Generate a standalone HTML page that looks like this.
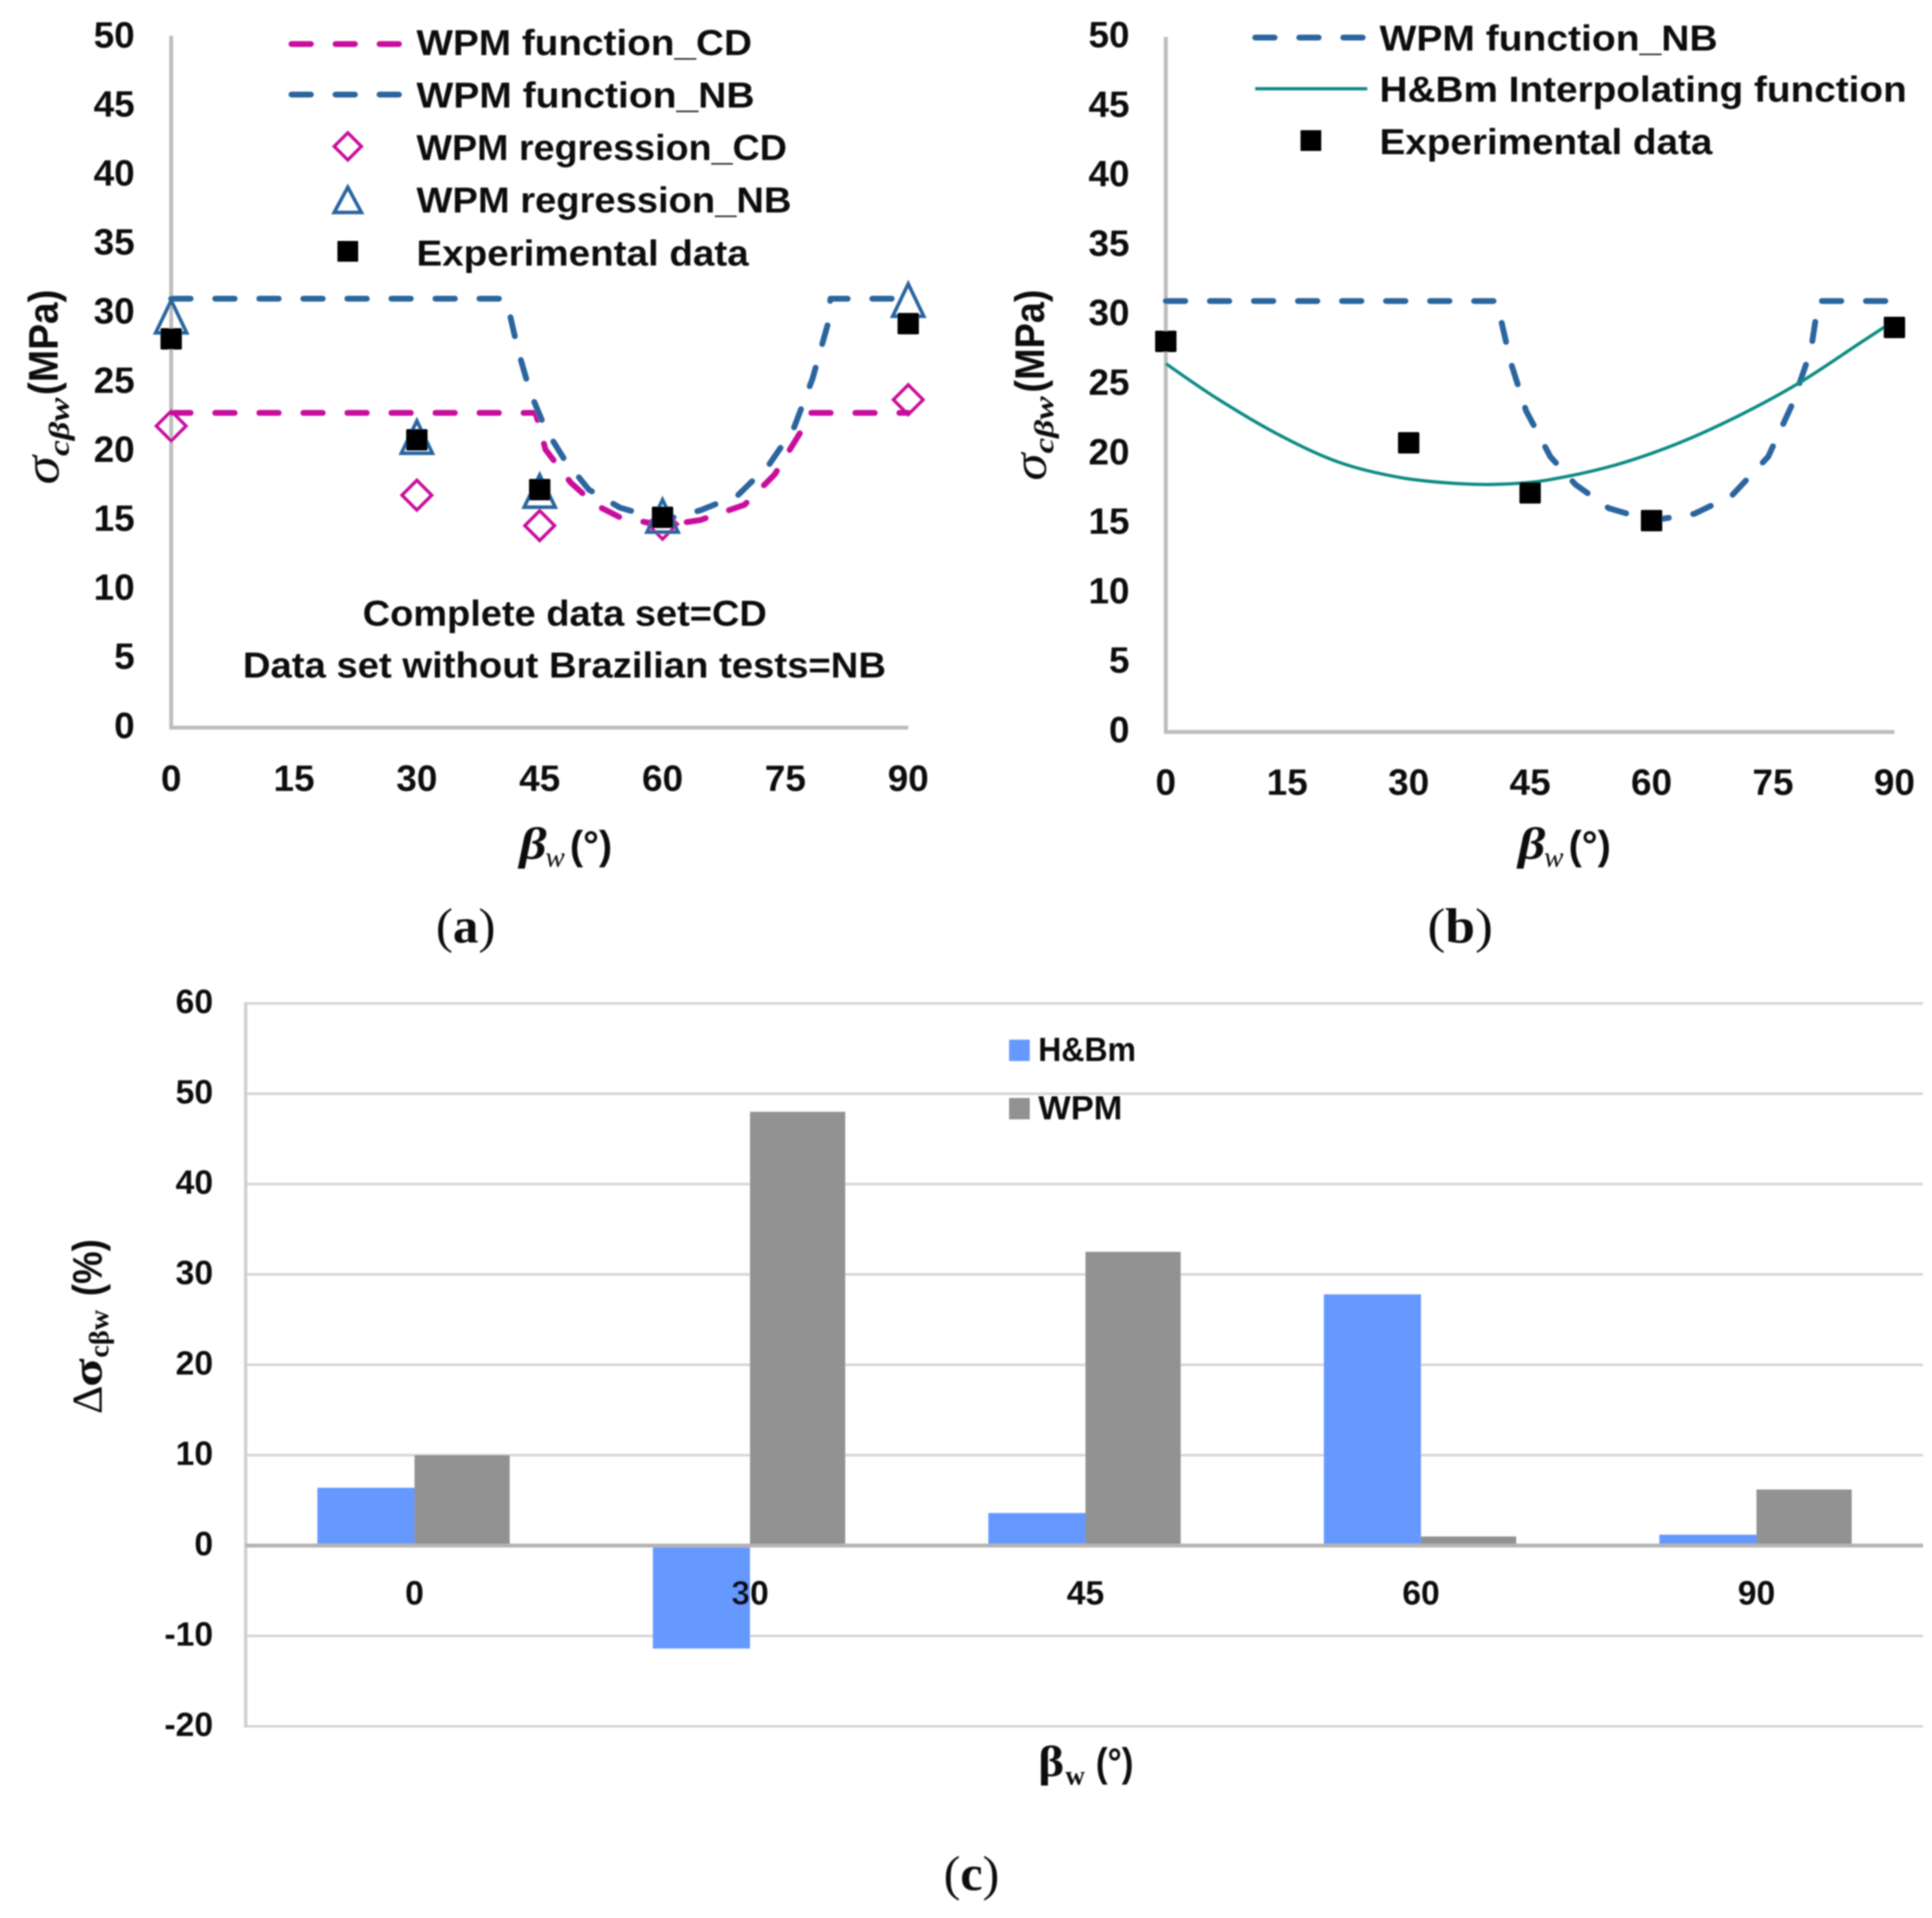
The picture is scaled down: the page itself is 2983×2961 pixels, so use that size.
<!DOCTYPE html>
<html lang="en">
<head>
<meta charset="utf-8">
<title>Strength versus weak-plane angle charts</title>
<style>
html,body{margin:0;padding:0;background:#fff;}
svg{display:block;}
text{fill:#0d0d0d;font-family:"Liberation Sans",sans-serif;font-weight:700;}
.serif{font-family:"Liberation Serif",serif;}
.tick{font-size:57px;}
.leg{font-size:56px;}
.ctick{font-size:52px;}
</style>
</head>
<body>
<svg id="figure" xmlns="http://www.w3.org/2000/svg" width="2983" height="2961" viewBox="0 0 2983 2961">
<defs>
<filter id="soft" x="0" y="0" width="100%" height="100%" filterUnits="userSpaceOnUse" primitiveUnits="userSpaceOnUse"><feGaussianBlur stdDeviation="1.1"/></filter>
</defs>
<rect x="0" y="0" width="2983" height="2961" fill="#ffffff"/>
<g filter="url(#soft)">
<g id="panelA">
  <g id="aAxes"></g>
  <g id="aMarks"></g>
  <g>
    <line x1="450" y1="68" x2="620" y2="68" stroke="#c80a9c" stroke-width="9" stroke-linecap="round" stroke-dasharray="30 38"/>
    <line x1="450" y1="146" x2="620" y2="146" stroke="#2b659f" stroke-width="9" stroke-linecap="round" stroke-dasharray="30 38"/>
    <polygon points="537,205 558,226 537,247 516,226" fill="none" stroke="#c80a9c" stroke-width="5"/>
    <polygon points="537,289 558,328 516,328" fill="none" stroke="#2b659f" stroke-width="5.5"/>
    <rect x="521" y="372" width="32" height="32" fill="#000"/>
    <text class="leg" x="643" y="85" textLength="518" lengthAdjust="spacingAndGlyphs">WPM function_CD</text>
    <text class="leg" x="643" y="166" textLength="522" lengthAdjust="spacingAndGlyphs">WPM function_NB</text>
    <text class="leg" x="643" y="247" textLength="572" lengthAdjust="spacingAndGlyphs">WPM regression_CD</text>
    <text class="leg" x="643" y="328" textLength="579" lengthAdjust="spacingAndGlyphs">WPM regression_NB</text>
    <text class="leg" x="643" y="410" textLength="513" lengthAdjust="spacingAndGlyphs">Experimental data</text>
  </g>
  <text class="leg" x="560" y="966" textLength="624" lengthAdjust="spacingAndGlyphs">Complete data set=CD</text>
  <text class="leg" x="375" y="1046" textLength="993" lengthAdjust="spacingAndGlyphs">Data set without Brazilian tests=NB</text>
  <g transform="rotate(-90)">
    <text class="serif" font-style="italic" style="font-weight:400;font-size:78px" x="-748" y="90" textLength="44" lengthAdjust="spacingAndGlyphs">σ</text>
    <text class="serif" font-style="italic" style="font-size:44px" x="-704" y="106" textLength="90" lengthAdjust="spacingAndGlyphs">cβw</text>
    <text style="font-size:64px" x="-610" y="89" textLength="163" lengthAdjust="spacingAndGlyphs">(MPa)</text>
  </g>
  <g>
    <text class="serif" font-style="italic" style="font-size:70px" x="802" y="1326" textLength="42" lengthAdjust="spacingAndGlyphs">β</text>
    <text class="serif" font-style="italic" style="font-size:44px;font-weight:400" x="842" y="1338" textLength="30" lengthAdjust="spacingAndGlyphs">w</text>
    <text style="font-size:62px" x="880" y="1326" textLength="65" lengthAdjust="spacingAndGlyphs">(°)</text>
  </g>
  <text class="serif" style="font-size:76px;font-weight:400" x="673" y="1455" textLength="92" lengthAdjust="spacingAndGlyphs">(<tspan style="font-weight:700">a</tspan>)</text>
</g>

<g id="panelB">
  <g id="bAxes"></g>
  <g id="bMarks"></g>
  <g>
    <line x1="1938" y1="58" x2="2109" y2="58" stroke="#2b659f" stroke-width="9" stroke-linecap="round" stroke-dasharray="30 38"/>
    <line x1="1938" y1="137" x2="2111" y2="137" stroke="#0e8b84" stroke-width="5"/>
    <rect x="2008" y="201" width="32" height="32" fill="#000"/>
    <text class="leg" x="2130" y="78" textLength="522" lengthAdjust="spacingAndGlyphs">WPM function_NB</text>
    <text class="leg" x="2130" y="157" textLength="814" lengthAdjust="spacingAndGlyphs">H&amp;Bm Interpolating function</text>
    <text class="leg" x="2130" y="238" textLength="514" lengthAdjust="spacingAndGlyphs">Experimental data</text>
  </g>
  <g transform="rotate(-90)">
    <text class="serif" font-style="italic" style="font-weight:400;font-size:74px" x="-742" y="1615" textLength="42" lengthAdjust="spacingAndGlyphs">σ</text>
    <text class="serif" font-style="italic" style="font-size:42px" x="-700" y="1626" textLength="88" lengthAdjust="spacingAndGlyphs">cβw</text>
    <text style="font-size:64px" x="-606" y="1612" textLength="159" lengthAdjust="spacingAndGlyphs">(MPa)</text>
  </g>
  <g>
    <text class="serif" font-style="italic" style="font-size:70px" x="2344" y="1326" textLength="42" lengthAdjust="spacingAndGlyphs">β</text>
    <text class="serif" font-style="italic" style="font-size:44px;font-weight:400" x="2384" y="1338" textLength="30" lengthAdjust="spacingAndGlyphs">w</text>
    <text style="font-size:62px" x="2422" y="1326" textLength="65" lengthAdjust="spacingAndGlyphs">(°)</text>
  </g>
  <text class="serif" style="font-size:76px;font-weight:400" x="2204" y="1455" textLength="101" lengthAdjust="spacingAndGlyphs">(<tspan style="font-weight:700">b</tspan>)</text>
</g>

<g id="panelC">
  <g id="cAxes"></g>
  <g id="cBars"></g>
  <g id="cLabels"></g>
  <g>
    <rect x="1558" y="1605" width="32" height="33" fill="#6699ff"/>
    <rect x="1558" y="1695" width="32" height="33" fill="#929292"/>
    <text class="ctick" x="1603" y="1638" textLength="151" lengthAdjust="spacingAndGlyphs">H&amp;Bm</text>
    <text class="ctick" x="1603" y="1728" textLength="130" lengthAdjust="spacingAndGlyphs">WPM</text>
  </g>
  <g transform="rotate(-90)">
    <text class="serif" style="font-size:66px;font-weight:400" x="-2183" y="157" textLength="44" lengthAdjust="spacingAndGlyphs">Δ</text>
    <text class="serif" style="font-size:66px" x="-2141" y="157" textLength="44" lengthAdjust="spacingAndGlyphs">σ</text>
    <text class="serif" style="font-size:42px" x="-2096" y="167" textLength="74" lengthAdjust="spacingAndGlyphs">cβw</text>
    <text style="font-size:64px" x="-2001" y="157" textLength="88" lengthAdjust="spacingAndGlyphs">(%)</text>
  </g>
  <g>
    <text class="serif" style="font-size:68px" x="1603" y="2742" textLength="40" lengthAdjust="spacingAndGlyphs">β</text>
    <text class="serif" style="font-size:42px" x="1645" y="2755" textLength="30" lengthAdjust="spacingAndGlyphs">w</text>
    <text style="font-size:62px" x="1692" y="2742" textLength="58" lengthAdjust="spacingAndGlyphs">(°)</text>
  </g>
  <text class="serif" style="font-size:76px;font-weight:400" x="1457" y="2918" textLength="86" lengthAdjust="spacingAndGlyphs">(<tspan style="font-weight:700">c</tspan>)</text>
</g>
</g>
</svg>
<script>
// Shared tick labels
const stressTicks = [0, 5, 10, 15, 20, 25, 30, 35, 40, 45, 50];
const angleTicks = [0, 15, 30, 45, 60, 75, 90];

// Panel (a) data
const expAngles = [0, 30, 45, 60, 90];
const aExpValues = [28.1, 20.8, 17.2, 15.2, 29.2];
const aRegNbValues = [29.7, 21.0, 17.1, 15.3, 30.9];
const aRegCdValues = [21.8, 16.8, 14.6, 14.7, 23.7];
const aNbAngles = [0, 40.6, 41.3, 42.3, 43.8, 45.7, 48, 51, 54.8, 60.1, 64.6, 69.2, 73, 76, 78.3, 80.2, 80.5, 90];
const aNbValues = [31, 31, 30, 27.4, 24.3, 21.6, 19.4, 17.2, 15.9, 15, 15.7, 16.8, 19, 21.6, 25.2, 29.2, 31, 31];
const aCdAngles = [0, 44.5, 45.7, 48.8, 51.8, 54.8, 60.1, 64.6, 70, 73.7, 77.1, 77.9, 90];
const aCdValues = [22.75, 22.75, 20.1, 17.7, 16.1, 15.2, 14.6, 15, 16.1, 18.3, 21.6, 22.75, 22.75];

// Panel (b) data
const bExpValues = [28.1, 20.8, 17.2, 15.2, 29.1];
const bNbAngles = [0, 40.7, 41.3, 42.6, 44.5, 47.5, 50.6, 54.7, 59.9, 65.3, 69.9, 74.4, 77.4, 79.7, 80.6, 90];
const bNbValues = [31, 31, 29.9, 26.6, 23.1, 19.8, 17.8, 16.1, 15.2, 15.7, 17, 19.8, 23.6, 27.5, 31, 31];
const bHbmAngles = [0, 6.3, 13.9, 21.4, 29, 36.6, 42.6, 47.9, 55.5, 63, 70.6, 78.2, 85.8, 90];
const bHbmValues = [26.5, 24, 21.4, 19.4, 18.3, 17.85, 17.85, 18.2, 19.2, 20.7, 22.7, 25.1, 28, 29.6];

// Panel (c) data
const barCategories = ['0', '30', '45', '60', '90'];
const barHbm = [6.4, -11.4, 3.6, 27.8, 1.2];
const barWpm = [10, 48, 32.5, 1, 6.2];
const errorTicks = [60, 50, 40, 30, 20, 10, 0, -10, -20];

const NS = 'http://www.w3.org/2000/svg';
function el(tag, attrs, parent, text) {
  const node = document.createElementNS(NS, tag);
  for (const k in attrs) node.setAttribute(k, attrs[k]);
  if (text !== undefined) node.textContent = text;
  parent.appendChild(node);
  return node;
}

// Axis functions
function xA(v) { return 264.3 + v * (1402.3 - 264.3) / 90; }
function yA(v) { return 1123.3 - v * 21.36; }
function xB(v) { return 1800 + v * (2925 - 1800) / 90; }
function yB(v) { return 1130 - v * 21.46; }
function yC(v) { return 2386 - v * 13.95; }
function xC(i) { return 640 + i * 518; }

function pointsOf(xs, ys, fx, fy) {
  return xs.map(function (x, i) { return fx(x).toFixed(1) + ',' + fy(ys[i]).toFixed(1); }).join(' ');
}

// Smooth path (Catmull-Rom) through data points
function smoothPath(xs, ys, fx, fy) {
  const p = xs.map(function (x, i) { return [fx(x), fy(ys[i])]; });
  let d = 'M' + p[0][0].toFixed(1) + ',' + p[0][1].toFixed(1);
  for (let i = 0; i < p.length - 1; i++) {
    const p0 = p[Math.max(i - 1, 0)], p1 = p[i], p2 = p[i + 1], p3 = p[Math.min(i + 2, p.length - 1)];
    const c1x = p1[0] + (p2[0] - p0[0]) / 6, c1y = p1[1] + (p2[1] - p0[1]) / 6;
    const c2x = p2[0] - (p3[0] - p1[0]) / 6, c2y = p2[1] - (p3[1] - p1[1]) / 6;
    d += ' C' + c1x.toFixed(1) + ',' + c1y.toFixed(1) + ' ' + c2x.toFixed(1) + ',' + c2y.toFixed(1) + ' ' + p2[0].toFixed(1) + ',' + p2[1].toFixed(1);
  }
  return d;
}

function drawLineAxes(group, fx, fy, yLabelX, yLabelShift, topStretch, xLabelY, prefix) {
  const yAxis = el('line', {x1: fx(0), y1: fy(50), x2: fx(0), y2: fy(0) + 3, stroke: '#bdbdbd', 'stroke-width': 6}, group);
  
  
  const xAxis = el('line', {x1: fx(0), y1: fy(0), x2: fx(90), y2: fy(0), stroke: '#bdbdbd', 'stroke-width': 6}, group);
  
  
  stressTicks.forEach(function (t) {
    const label = el('text', {class: 'tick', x: yLabelX, y: fy(t) + yLabelShift + (t / 50) * topStretch, 'text-anchor': 'end'}, group, String(t));
    
    
  });
  angleTicks.forEach(function (t) {
    const label = el('text', {class: 'tick', x: fx(t), y: xLabelY, 'text-anchor': 'middle'}, group, String(t));
    
    
  });
}

function drawSquares(group, xs, ys, fx, fy, prefix) {
  xs.forEach(function (x, i) {
    const m = el('rect', {x: fx(x) - 16.5, y: fy(ys[i]) - 16.5, width: 33, height: 33, rx: 2, fill: '#000'}, group);
    
    
  });
}

// Panel (a)
const aAxes = document.getElementById('aAxes');
const aMarks = document.getElementById('aMarks');
drawLineAxes(aAxes, xA, yA, 208, 16, 2, 1221, 'panel-a');

const aCdLine = el('polyline', {points: pointsOf(aCdAngles, aCdValues, xA, yA), fill: 'none', stroke: '#c80a9c', 'stroke-width': 9, 'stroke-linecap': 'round', 'stroke-linejoin': 'round', 'stroke-dasharray': '30 38'}, aMarks);


const aNbLine = el('polyline', {points: pointsOf(aNbAngles, aNbValues, xA, yA), fill: 'none', stroke: '#2b659f', 'stroke-width': 9, 'stroke-linecap': 'round', 'stroke-linejoin': 'round', 'stroke-dasharray': '30 38'}, aMarks);



expAngles.forEach(function (x, i) {
  const cx = xA(x), cy = yA(aRegCdValues[i]);
  const d = el('polygon', {points: [cx, cy - 23, cx + 23, cy, cx, cy + 23, cx - 23, cy].join(' '), fill: 'none', stroke: '#c80a9c', 'stroke-width': 5}, aMarks);
  
  
});
expAngles.forEach(function (x, i) {
  const cx = xA(x), cy = yA(aRegNbValues[i]);
  const t = el('polygon', {points: [cx, cy - 25, cx + 24, cy + 25, cx - 24, cy + 25].join(' '), fill: 'none', stroke: '#2b659f', 'stroke-width': 5.5}, aMarks);
  
  
});
drawSquares(aMarks, expAngles, aExpValues, xA, yA, 'panel-a');

// Panel (b)
const bAxes = document.getElementById('bAxes');
const bMarks = document.getElementById('bMarks');
drawLineAxes(bAxes, xB, yB, 1744, 16, 0, 1227, 'panel-b');

const bNbLine = el('polyline', {points: pointsOf(bNbAngles, bNbValues, xB, yB), fill: 'none', stroke: '#2b659f', 'stroke-width': 9, 'stroke-linecap': 'round', 'stroke-linejoin': 'round', 'stroke-dasharray': '30 38'}, bMarks);


const bHbmLine = el('path', {d: smoothPath(bHbmAngles, bHbmValues, xB, yB), fill: 'none', stroke: '#0e8b84', 'stroke-width': 5, 'stroke-linejoin': 'round'}, bMarks);


drawSquares(bMarks, expAngles, bExpValues, xB, yB, 'panel-b');

// Panel (c)
const cAxes = document.getElementById('cAxes');
const cBars = document.getElementById('cBars');
const cLabels = document.getElementById('cLabels');
const cLeft = 379.3, cRight = 2969, barWidth = 147;

errorTicks.forEach(function (t) {
  const grid = el('line', {x1: cLeft, y1: yC(t), x2: cRight, y2: yC(t), stroke: '#d6d6d6', 'stroke-width': 4}, cAxes);
  
  
  const label = el('text', {class: 'ctick', x: 329, y: yC(t) + 15, 'text-anchor': 'end'}, cAxes, String(t));
  
  
});
const cYAxis = el('line', {x1: cLeft, y1: yC(60) - 2, x2: cLeft, y2: yC(-20) + 2, stroke: '#cfcfcf', 'stroke-width': 5}, cAxes);



barCategories.forEach(function (c, i) {
  const hv = barHbm[i];
  const hbm = el('rect', {x: xC(i) - barWidth - 3, y: Math.min(yC(hv), yC(0)), width: barWidth + 3, height: Math.abs(yC(hv) - yC(0)), fill: '#6699ff'}, cBars);
  
  
  const wv = barWpm[i];
  const wpm = el('rect', {x: xC(i), y: Math.min(yC(wv), yC(0)), width: barWidth, height: Math.abs(yC(wv) - yC(0)), fill: '#929292'}, cBars);
  
  
  const label = el('text', {class: 'ctick', x: xC(i), y: 2477, 'text-anchor': 'middle'}, cLabels, c);
  
  
});
const zeroLine = el('line', {x1: cLeft, y1: yC(0), x2: cRight, y2: yC(0), stroke: '#b4b4b4', 'stroke-width': 6}, cBars);


</script>
</body>
</html>
